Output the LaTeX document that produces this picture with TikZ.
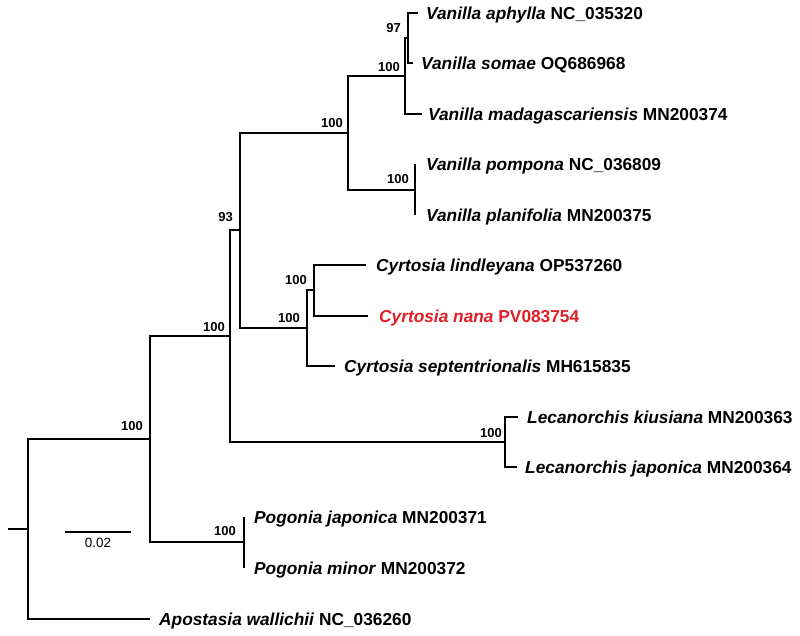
\documentclass[tikz,border=0pt]{standalone}
\usepackage{fontspec}
\setmainfont{Liberation Sans}
\usetikzlibrary{positioning}
\definecolor{nanared}{RGB}{224,30,38}
\tikzset{
	branch/.style={line width=2pt},
	taxon/.style={anchor=west, inner sep=0pt, text height=12.4pt, text depth=0pt,
		font=\fontsize{17.3}{20}\selectfont\bfseries},
	support/.style={inner sep=0pt, font=\fontsize{13}{15}\selectfont\bfseries},
}
\newcommand{\taxname}[2]{\textit{#1} #2}

\begin{document}
\begin{tikzpicture}[x=1pt, y=-1pt]
				\useasboundingbox (0,0) rectangle (800,636);
				% internal nodes
				\coordinate (stem) at (8,529);
				\coordinate (root) at (28,529);
				\coordinate (nB) at (150,439);
				\coordinate (nA) at (230,336);
				\coordinate (n93) at (240,230);
				\coordinate (nVan) at (348,133);
				\coordinate (nMad) at (405,76);
				\coordinate (n97) at (408,38);
				\coordinate (nPom) at (415,190);
				\coordinate (nCyr) at (307,328);
				\coordinate (nLin) at (314,290);
				\coordinate (nLec) at (505,442);
				\coordinate (nPog) at (244,542);
				% tips
				\coordinate (tAph) at (418,13);
				\coordinate (tSom) at (413,63);
				\coordinate (tMad) at (422,114);
				\coordinate (tPom) at (415,164);
				\coordinate (tPla) at (415,215);
				\coordinate (tLin) at (366,265);
				\coordinate (tNan) at (368,316);
				\coordinate (tSep) at (335,366);
				\coordinate (tKiu) at (518,417);
				\coordinate (tJap) at (517,467);
				\coordinate (tPja) at (244,517);
				\coordinate (tPmi) at (244,568);
				\coordinate (tApo) at (150,619);
				% branches
				\draw[branch] (stem) -- (root);
				\foreach \p/\c in {root/nB, root/tApo, nB/nA, nB/nPog, nA/n93, nA/nLec,
					n93/nVan, n93/nCyr, nVan/nMad, nVan/nPom, nMad/n97, nMad/tMad,
					nPom/tPom, nPom/tPla, nCyr/nLin, nCyr/tSep, nLin/tLin, nLin/tNan,
					nLec/tKiu, nLec/tJap, nPog/tPja, nPog/tPmi} {
					\draw[branch] (\p) |- (\c);
				}
				\draw[line width=1.4pt] (n97) |- (tAph) (n97) |- (tSom);
				% taxa
				\node[taxon, right=8pt of tAph] (aph) {\taxname{Vanilla aphylla}{NC\_035320}};
				\node[taxon, right=8pt of tSom] (som) {\taxname{Vanilla somae}{OQ686968}};
				\node[taxon, right=6pt of tMad] (mad) {\taxname{Vanilla madagascariensis}{MN200374}};
				\node[taxon, right=11pt of tPom] (pom) {\taxname{Vanilla pompona}{NC\_036809}};
				\node[taxon, right=11pt of tPla] (pla) {\taxname{Vanilla planifolia}{MN200375}};
				\node[taxon, right=10pt of tLin] (lin) {\taxname{Cyrtosia lindleyana}{OP537260}};
				\node[taxon, right=11pt of tNan, text=nanared] (nan) {\taxname{Cyrtosia nana}{PV083754}};
				\node[taxon, right=9pt of tSep] (sep) {\taxname{Cyrtosia septentrionalis}{MH615835}};
				\node[taxon, right=9pt of tKiu] (kiu) {\taxname{Lecanorchis kiusiana}{MN200363}};
				\node[taxon, right=8pt of tJap] (jap) {\taxname{Lecanorchis japonica}{MN200364}};
				\node[taxon, right=10pt of tPja] (pja) {\taxname{Pogonia japonica}{MN200371}};
				\node[taxon, right=10pt of tPmi] (pmi) {\taxname{Pogonia minor}{MN200372}};
				\node[taxon, right=9pt of tApo] (apo) {\taxname{Apostasia wallichii}{NC\_036260}};
				% bootstrap values
				\node[support, above left=5pt and 7pt of n97] (s97) {97};
				\node[support, above left=4pt and 5pt of nMad] (sMad) {100};
				\node[support, above left=5pt and 5pt of nVan] (sVan) {100};
				\node[support, above left=6pt and 6pt of nPom] (sPom) {100};
				\node[support, above left=8pt and 7pt of n93] (s93) {93};
				\node[support, above left=5pt and 7pt of nLin] (sLin) {100};
				\node[support, above left=5pt and 7pt of nCyr] (sCyr) {100};
				\node[support, above left=4pt and 5pt of nA] (sA) {100};
				\node[support, above left=4pt and 3pt of nLec] (sLec) {100};
				\node[support, above left=8pt and 7pt of nB] (sB) {100};
				\node[support, above left=6pt and 8pt of nPog] (sPog) {100};
				% scale bar
				\coordinate (barL) at (65,532);
				\coordinate (barR) at (131,532);
				\draw[branch] (barL) -- (barR);
				\node[inner sep=0pt, anchor=base, font=\fontsize{13.5}{15}\selectfont] (barlab) at (98,547) {0.02};
\end{tikzpicture}
\end{document}
